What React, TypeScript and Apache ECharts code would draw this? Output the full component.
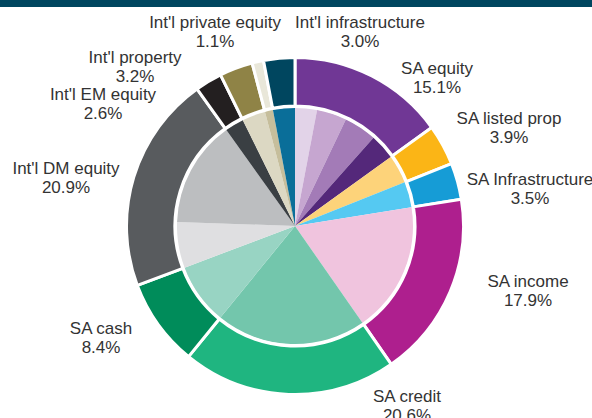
import React, { useEffect, useRef } from "react";
import * as echarts from "echarts";

const outerNames = [
  "SA equity",
  "SA listed prop",
  "SA Infrastructure",
  "SA income",
  "SA credit",
  "SA cash",
  "Int'l DM equity",
  "Int'l EM equity",
  "Int'l property",
  "Int'l private equity",
  "Int'l infrastructure",
];
const outerValues = [15.1, 3.9, 3.5, 17.9, 20.6, 8.4, 20.9, 2.6, 3.2, 1.1, 3.0];
const outerColors = [
  "#703795", "#fbb516", "#169cd6", "#ae1f8e", "#1fb580", "#008c5a",
  "#585b5e", "#231f20", "#8f8346", "#e9e7d9", "#00465f",
];

const innerNames = [
  "SA equity 1", "SA equity 2", "SA equity 3", "SA equity 4",
  "SA listed prop", "SA Infrastructure", "SA income", "SA credit", "SA cash",
  "Int'l DM equity 1", "Int'l DM equity 2",
  "Int'l EM equity", "Int'l property", "Int'l private equity", "Int'l infrastructure",
];
const innerValues = [3.0, 4.1, 4.5, 3.5, 3.9, 3.5, 17.9, 20.6, 8.4, 6.3, 14.6, 2.6, 3.2, 1.1, 3.0];
const innerColors = [
  "#e2d3e8", "#c6a6d0", "#a37bb7", "#54287a",
  "#fdd37a", "#55c9f2", "#f0c4de", "#73c6ac", "#98d4c3",
  "#dfdfe1", "#bcbec0", "#3a3f43", "#dcd8c3", "#c6be9c", "#0a6e99",
];

// Layout only: where each (hand-placed) label block sits, relative to the pie centre.
const CX = 295;
const CY = 226;
const labelOffsets: [number, number][] = [
  [142, -148],
  [214, -98],
  [235, -37],
  [233, 65],
  [112, 180],
  [-194, 112],
  [-229, -48],
  [-192, -122],
  [-160, -159],
  [-80, -194],
  [65, -194],
];

export default function App() {
  const ref = useRef<HTMLDivElement>(null);
  useEffect(() => {
    if (!ref.current) return;
    const chart = echarts.init(ref.current, null, { renderer: "svg" });
    const font = "'Liberation Sans', Arial, sans-serif";
    chart.setOption({
      animation: false,
      backgroundColor: "#ffffff",
      graphic: [
        {
          type: "rect",
          shape: { x: 0, y: 0, width: 592, height: 7 },
          style: { fill: "#00465f" },
          silent: true,
        },
      ],
      series: [
        {
          type: "pie",
          center: [CX, CY],
          radius: [0, 118],
          startAngle: 90,
          clockwise: true,
          silent: true,
          label: { show: false },
          labelLine: { show: false },
          data: innerNames.map((n, i) => ({
            name: n,
            value: innerValues[i],
            itemStyle: { color: innerColors[i] },
          })),
        },
        {
          type: "pie",
          center: [CX, CY],
          radius: [120, 168.5],
          startAngle: 90,
          clockwise: true,
          silent: true,
          avoidLabelOverlap: false,
          itemStyle: { borderColor: "#ffffff", borderWidth: 3 },
          label: {
            show: true,
            position: "outside",
            fontFamily: font,
            fontSize: 17,
            lineHeight: 19,
            color: "#333333",
            overflow: "none",
            formatter: (p: any) => `${p.name}\n${Number(p.value).toFixed(1)}%`,
          },
          labelLine: { show: false, length: 14, length2: 0 },
          labelLayout: (p: any) => {
            const o = labelOffsets[p.dataIndex];
            return {
              x: CX + o[0],
              y: CY + o[1],
              align: "center",
              verticalAlign: "middle",
            };
          },
          data: outerNames.map((n, i) => ({
            name: n,
            value: outerValues[i],
            itemStyle: { color: outerColors[i] },
          })),
        },
      ],
    });
    return () => chart.dispose();
  }, []);
  return (
    <div
      ref={ref}
      style={{ position: "fixed", left: 0, top: 0, width: 592, height: 418 }}
    />
  );
}
